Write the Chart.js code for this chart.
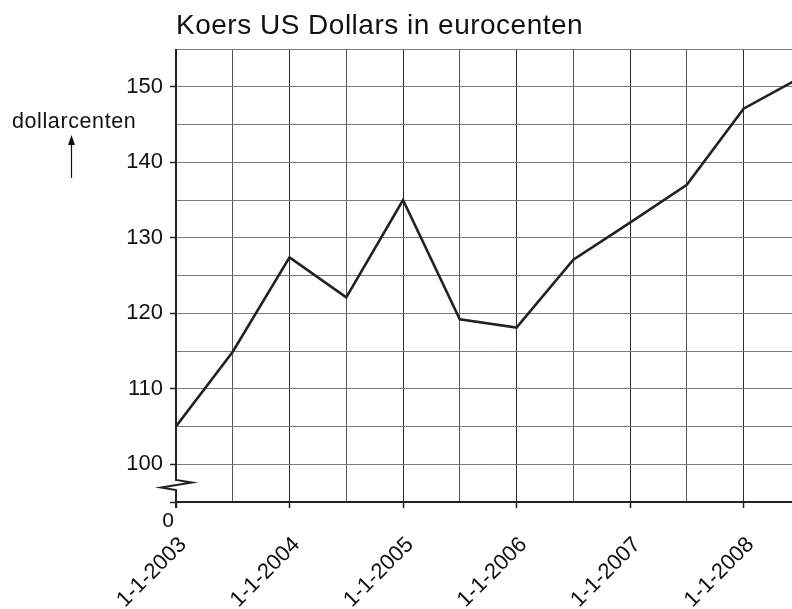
<!DOCTYPE html>
<html>
<head>
<meta charset="utf-8">
<script src="https://cdn.jsdelivr.net/npm/chart.js@4/dist/chart.umd.min.js"></script>
<style>
html,body{margin:0;padding:0;background:#fff;overflow:hidden;width:792px;height:609px;}
#wrap{position:absolute;left:0;top:0;width:843px;height:609px;}
</style>
</head>
<body>
<div id="wrap"><canvas id="c" width="843" height="609"></canvas></div>
<script>
// Data
const halfYears = [2003, 2003.5, 2004, 2004.5, 2005, 2005.5, 2006, 2006.5, 2007, 2007.5, 2008, 2008.5];
const rates = [105, 114.9, 127.4, 122.1, 135, 119.2, 118.1, 127.1, 132, 137, 147.1, 151.2];
const yearLabels = ['1-1-2003', '1-1-2004', '1-1-2005', '1-1-2006', '1-1-2007', '1-1-2008'];
const yTickLabels = ['100', '110', '120', '130', '140', '150'];
const titleText = 'Koers US Dollars in eurocenten';
const unitText = 'dollarcenten';
const breakLabel = '0';

const FONT = '"Liberation Sans", Arial, Helvetica, sans-serif';
const firstYear = 2003;

const overlay = {
  id: 'overlay',
  afterDraw(chart) {
    const ctx = chart.ctx;
    const a = chart.chartArea;
    const L = a.left, B = a.bottom;
    ctx.save();
    // title
    ctx.fillStyle = '#111';
    ctx.font = '28px ' + FONT;
    ctx.textAlign = 'left';
    ctx.textBaseline = 'alphabetic';
    if ('letterSpacing' in ctx) ctx.letterSpacing = '0.5px';
    ctx.fillText(titleText, 176, 34);
    // unit label
    ctx.font = '21.5px ' + FONT;
    if ('letterSpacing' in ctx) ctx.letterSpacing = '0.6px';
    ctx.fillText(unitText, 12, 128);
    if ('letterSpacing' in ctx) ctx.letterSpacing = '0px';
    // arrow
    ctx.strokeStyle = '#111';
    ctx.lineWidth = 1.2;
    ctx.beginPath();
    ctx.moveTo(71.5, 178);
    ctx.lineTo(71.5, 142);
    ctx.stroke();
    ctx.beginPath();
    ctx.moveTo(71.5, 135);
    ctx.lineTo(68, 145);
    ctx.lineTo(75, 145);
    ctx.closePath();
    ctx.fill();
    // y axis line with break
    ctx.strokeStyle = '#222';
    ctx.lineWidth = 2;
    ctx.lineJoin = 'miter';
    ctx.beginPath();
    ctx.moveTo(L, a.top);
    ctx.lineTo(L, B - 22);
    ctx.lineTo(L + 16, B - 19.5);
    ctx.lineTo(L - 15, B - 14.5);
    ctx.lineTo(L, B - 12);
    ctx.lineTo(L, B + 6);
    ctx.stroke();
    // "0" under the break
    ctx.font = '21px ' + FONT;
    ctx.textAlign = 'center';
    ctx.textBaseline = 'middle';
    ctx.fillText(breakLabel, L - 8, 521);
    ctx.restore();
  }
};

new Chart(document.getElementById('c'), {
  type: 'line',
  data: {
    datasets: [{
      data: halfYears.map((x, i) => ({ x: x, y: rates[i] })),
      borderColor: '#222',
      borderWidth: 2.6,
      pointRadius: 0,
      tension: 0,
      fill: false
    }]
  },
  options: {
    responsive: false,
    animation: false,
    layout: { padding: { left: 0, right: 12, top: 49, bottom: 0 } },
    plugins: { legend: { display: false }, tooltip: { enabled: false }, title: { display: false } },
    scales: {
      x: {
        type: 'linear',
        min: 2003,
        max: 2008.5,
        afterFit(scale) { scale.height = 107; },
        afterBuildTicks(scale) {
          const t = [];
          for (let v = 2003; v <= 2008.5 + 1e-9; v += 0.5) t.push({ value: v });
          scale.ticks = t;
        },
        border: { display: true, color: '#222', width: 2 },
        grid: {
          color: (c) => {
            const v = c.tick ? c.tick.value : null;
            if (v === 2003) return 'rgba(0,0,0,0)';
            return Number.isInteger(v) ? '#2a2a2a' : '#555';
          },
          lineWidth: 1,
          drawTicks: true,
          tickLength: 6,
          tickWidth: 1.5,
          tickColor: (c) => (c.tick && Number.isInteger(c.tick.value)) ? '#222' : 'rgba(0,0,0,0)'
        },
        ticks: {
          autoSkip: false,
          minRotation: 45,
          maxRotation: 45,
          padding: 24,
          labelOffset: 7,
          color: '#111',
          font: { family: FONT, size: 22 },
          callback: (v) => Number.isInteger(v) ? yearLabels[v - firstYear] : ''
        }
      },
      y: {
        type: 'linear',
        min: 95,
        max: 155,
        afterFit(scale) { scale.width = 176; },
        afterBuildTicks(scale) {
          const t = [];
          for (let v = 95; v <= 155; v += 5) t.push({ value: v });
          scale.ticks = t;
        },
        border: { display: false },
        grid: {
          color: (c) => (c.tick && c.tick.value === 95) ? 'rgba(0,0,0,0)' : '#7a7a7a',
          lineWidth: 1,
          drawTicks: true,
          tickLength: 6,
          tickWidth: 1.5,
          tickColor: (c) => (c.tick && c.tick.value % 10 === 0 || (c.tick && c.tick.value === 95)) ? '#222' : 'rgba(0,0,0,0)'
        },
        ticks: {
          padding: 7,
          color: '#111',
          font: { family: FONT, size: 22 },
          callback: (v) => (v % 10 === 0) ? yTickLabels[(v - 100) / 10] : ''
        }
      }
    }
  },
  plugins: [overlay]
});
</script>
</body>
</html>
